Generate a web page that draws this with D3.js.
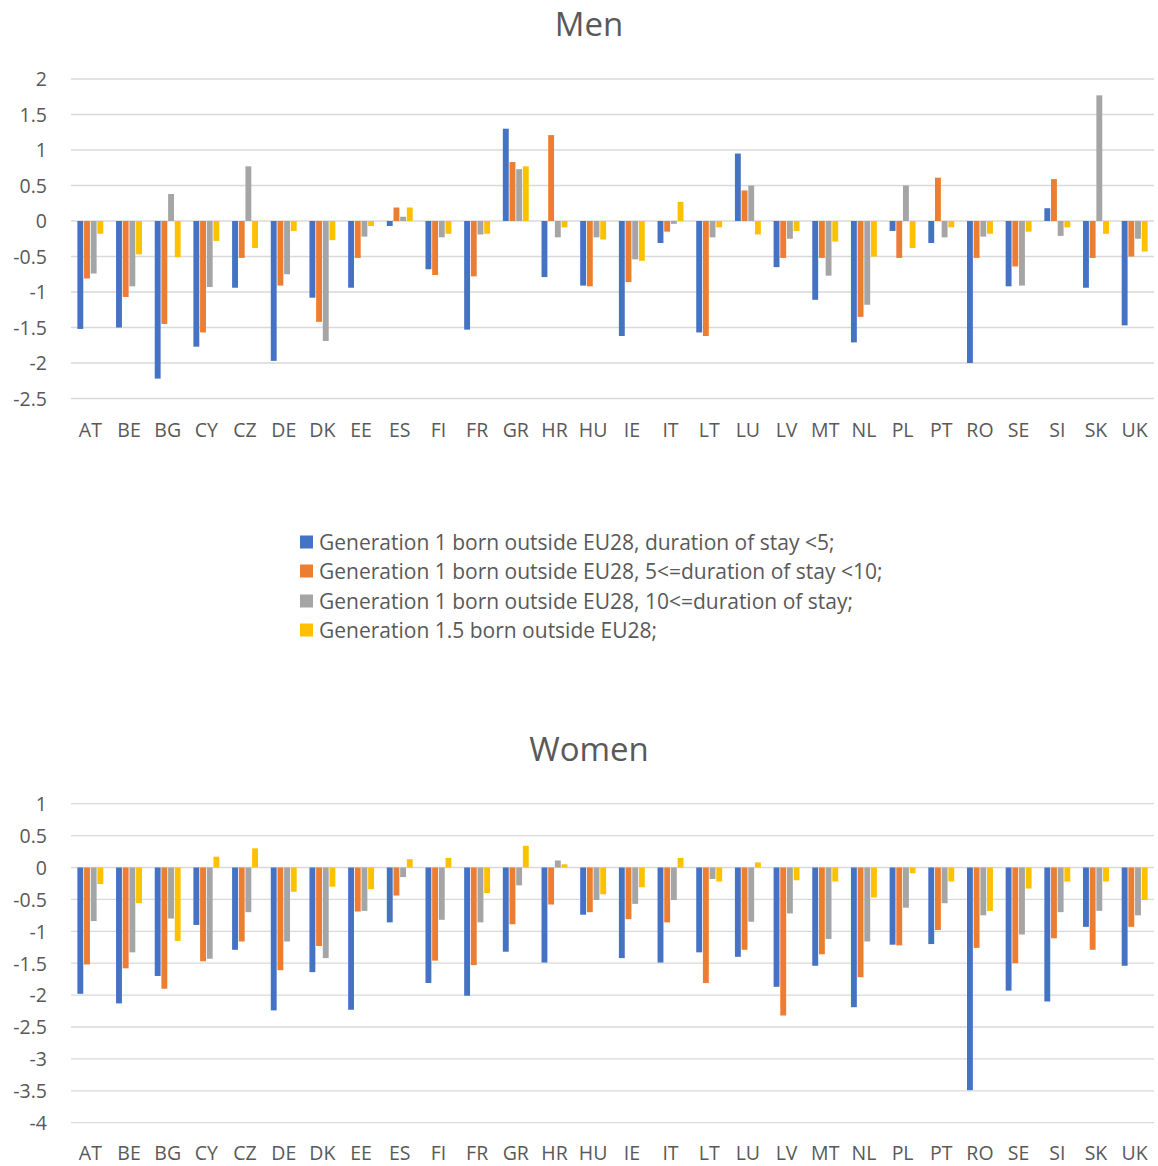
<!DOCTYPE html>
<html><head><meta charset="utf-8">
<script src="https://cdn.jsdelivr.net/npm/d3@7"></script>
<style>
body{margin:0;background:#fff;}
text{font-family:"Open Sans",sans-serif;fill:#595959;}
</style></head>
<body><svg id="c" width="1158" height="1166"></svg>
<script>
const countries = ["AT","BE","BG","CY","CZ","DE","DK","EE","ES","FI","FR","GR","HR","HU","IE","IT","LT","LU","LV","MT","NL","PL","PT","RO","SE","SI","SK","UK"];
const seriesNames = [
  "Generation 1 born outside EU28, duration of stay <5;",
  "Generation 1 born outside EU28, 5<=duration of stay <10;",
  "Generation 1 born outside EU28, 10<=duration of stay;",
  "Generation 1.5 born outside EU28;"
];
const seriesColors = ["#4472C4","#ED7D31","#A5A5A5","#FFC000"];

const menS1 = [-1.52,-1.50,-2.22,-1.77,-0.94,-1.97,-1.08,-0.94,-0.07,-0.68,-1.53,1.30,-0.79,-0.91,-1.62,-0.31,-1.57,0.95,-0.65,-1.11,-1.71,-0.14,-0.31,-2.00,-0.92,0.18,-0.94,-1.47];
const menS2 = [-0.81,-1.07,-1.45,-1.57,-0.52,-0.91,-1.42,-0.52,0.19,-0.76,-0.78,0.83,1.21,-0.92,-0.86,-0.15,-1.62,0.43,-0.52,-0.52,-1.35,-0.52,0.61,-0.52,-0.64,0.59,-0.52,-0.50];
const menS3 = [-0.74,-0.92,0.38,-0.93,0.77,-0.75,-1.69,-0.22,0.06,-0.23,-0.19,0.73,-0.23,-0.23,-0.54,-0.04,-0.23,0.50,-0.25,-0.77,-1.18,0.50,-0.23,-0.22,-0.91,-0.21,1.77,-0.25];
const menS4 = [-0.18,-0.47,-0.51,-0.28,-0.38,-0.14,-0.27,-0.07,0.19,-0.18,-0.18,0.77,-0.09,-0.26,-0.56,0.27,-0.09,-0.19,-0.14,-0.29,-0.50,-0.38,-0.09,-0.18,-0.15,-0.09,-0.18,-0.43];

const womenS1 = [-1.98,-2.13,-1.70,-0.90,-1.29,-2.24,-1.64,-2.23,-0.86,-1.81,-2.01,-1.32,-1.49,-0.74,-1.42,-1.49,-1.33,-1.40,-1.87,-1.54,-2.19,-1.21,-1.20,-3.49,-1.93,-2.10,-0.93,-1.54];
const womenS2 = [-1.52,-1.58,-1.90,-1.47,-1.16,-1.61,-1.23,-0.69,-0.44,-1.46,-1.53,-0.89,-0.58,-0.70,-0.81,-0.86,-1.81,-1.29,-2.32,-1.36,-1.72,-1.22,-0.98,-1.26,-1.50,-1.11,-1.29,-0.93];
const womenS3 = [-0.84,-1.33,-0.80,-1.43,-0.70,-1.16,-1.42,-0.68,-0.15,-0.82,-0.86,-0.28,0.11,-0.51,-0.57,-0.51,-0.18,-0.85,-0.72,-1.12,-1.16,-0.63,-0.56,-0.75,-1.05,-0.70,-0.68,-0.75];
const womenS4 = [-0.26,-0.56,-1.15,0.17,0.30,-0.38,-0.30,-0.34,0.13,0.15,-0.40,0.34,0.05,-0.42,-0.31,0.15,-0.22,0.08,-0.20,-0.22,-0.47,-0.09,-0.22,-0.68,-0.33,-0.22,-0.22,-0.51];

const menTicks = [2,1.5,1,0.5,0,-0.5,-1,-1.5,-2,-2.5];
const womenTicks = [1,0.5,0,-0.5,-1,-1.5,-2,-2.5,-3,-3.5,-4];

const svg = d3.select("#c");
const left = 71, right = 1154;

function drawChart(title, titleY, series, yDomain, yRange, ticks, labelY){
  const g = svg.append("g");
  const x0 = d3.scaleBand().domain(countries).range([left,right]).paddingInner(0.33).paddingOuter(0.165);
  const x1 = d3.scaleBand().domain(d3.range(4)).range([0,x0.bandwidth()]).paddingInner(0.12);
  const y = d3.scaleLinear().domain(yDomain).range(yRange);
  g.append("g").selectAll("line").data(ticks).join("line")
    .attr("x1",left).attr("x2",right)
    .attr("y1",d=>y(d)).attr("y2",d=>y(d))
    .attr("stroke","#d9d9d9").attr("stroke-width",1.3);
  const ya = d3.axisLeft(y).tickValues(ticks).tickSize(0).tickPadding(0).tickFormat(d=>String(d));
  const yg = g.append("g").attr("transform",`translate(47,0)`).call(ya);
  yg.select(".domain").remove();
  yg.selectAll("text").attr("font-size",19.5).attr("dy","0.35em").style("font-family","'Open Sans',sans-serif").attr("fill","#595959");
  const rows = [];
  countries.forEach((c,i)=>series.forEach((s,k)=>rows.push({c,k,v:s[i]})));
  g.append("g").selectAll("rect").data(rows).join("rect")
    .attr("x",d=>x0(d.c)+x1(d.k))
    .attr("width",x1.bandwidth())
    .attr("y",d=>y(Math.max(0,d.v)))
    .attr("height",d=>Math.abs(y(d.v)-y(0)))
    .attr("fill",d=>seriesColors[d.k]);
  const xa = d3.axisBottom(x0).tickSize(0).tickPadding(0);
  const xg = g.append("g").attr("transform",`translate(0,${labelY})`).call(xa);
  xg.select(".domain").remove();
  xg.selectAll("text").attr("font-size",19.5).attr("dy",0).style("font-family","'Open Sans',sans-serif").attr("fill","#595959");
  g.append("text").attr("x",589).attr("y",titleY).attr("text-anchor","middle")
    .attr("font-size",33).text(title);
}

drawChart("Men", 36, [menS1,menS2,menS3,menS4], [2,-2.5], [79,398.5], menTicks, 437);
drawChart("Women", 761, [womenS1,womenS2,womenS3,womenS4], [1,-4], [803.7,1122.7], womenTicks, 1160);

const lg = svg.append("g");
const ly = [542,571,601,630];
seriesNames.forEach((n,i)=>{
  lg.append("rect").attr("x",300).attr("y",ly[i]-6.5).attr("width",13).attr("height",13).attr("fill",seriesColors[i]);
  lg.append("text").attr("x",319).attr("y",ly[i]+7.5).attr("font-size",21).text(n);
});
</script></body></html>
